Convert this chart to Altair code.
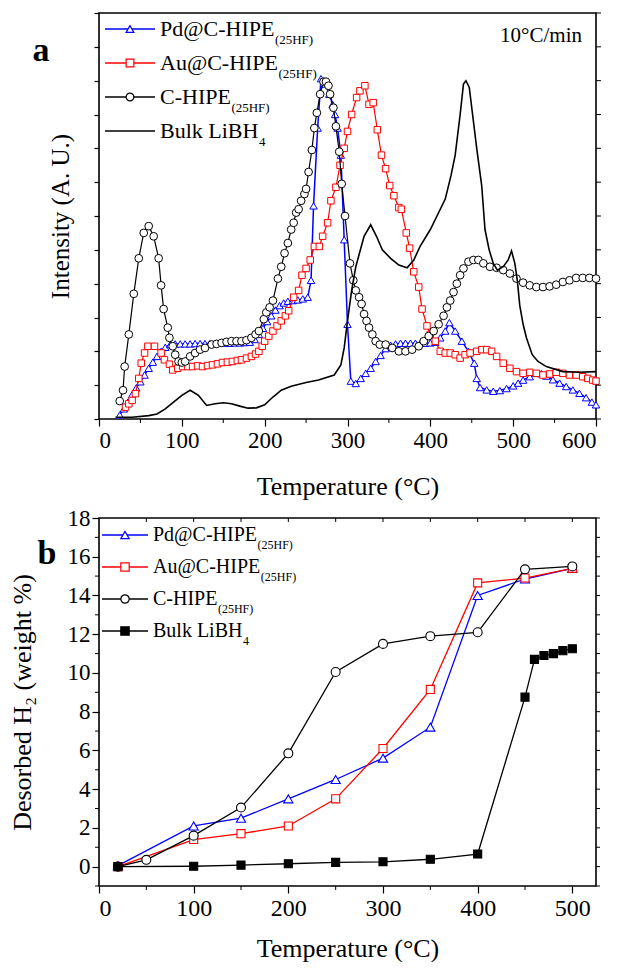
import altair as alt
import pandas as pd

FONT = "Liberation Serif"

# ---------------- Panel a : TPD intensity curves ----------------
pd_T = [25, 30, 35, 40, 45, 50, 55, 60, 65, 70, 75, 80, 86, 92, 98, 104, 110, 116, 122, 128,
        134, 140, 146, 152, 158, 164, 170, 176, 182, 188, 193, 198, 203, 208, 213, 218, 223,
        228, 234, 240, 246, 252, 256, 259, 264, 268, 273, 278, 282, 285, 288, 292, 296, 300,
        304, 310, 316, 322, 328, 334, 340, 346, 352, 358, 364, 370, 376, 382, 388, 394, 400,
        406, 412, 418, 423, 430, 438, 446, 453, 456, 460, 468, 476, 484, 492, 500, 506, 512,
        520, 528, 534, 540, 548, 556, 564, 572, 580, 588, 595, 600]
pd_I = [0.12, 0.3, 0.5, 0.72, 0.92, 1.1, 1.3, 1.5, 1.68, 1.85, 2.0, 2.12, 2.2, 2.22, 2.22,
        2.22, 2.22, 2.23, 2.23, 2.23, 2.23, 2.23, 2.24, 2.24, 2.24, 2.25, 2.25, 2.26, 2.27,
        2.35, 2.5, 2.68, 2.88, 3.05, 3.22, 3.35, 3.43, 3.48, 3.5, 3.52, 3.55, 3.6, 4.1, 6.3,
        8.6, 10.06, 9.9, 9.6, 9.3, 9.0, 8.6, 7.8, 5.3, 2.8, 1.12, 1.05, 1.2, 1.35, 1.5, 1.7,
        1.88, 2.08, 2.18, 2.22, 2.24, 2.24, 2.24, 2.24, 2.24, 2.24, 2.25, 2.27, 2.4, 2.6,
        2.85, 2.6, 2.3, 2.0, 1.65, 1.2, 0.93, 0.86, 0.82, 0.84, 0.9, 0.98, 1.06, 1.15, 1.25,
        1.35, 1.34, 1.27, 1.16, 1.06, 0.96, 0.86, 0.76, 0.63, 0.5, 0.42]

au_T = [32, 36, 40, 44, 48, 51, 55, 59, 67, 75, 79, 85, 89, 95, 101, 107, 113, 119, 125, 131,
        137, 143, 149, 155, 161, 167, 172, 178, 184, 189, 193, 197, 200, 205, 210, 215, 220,
        225, 229, 235, 241, 245, 250, 255, 260, 266, 270, 276, 280, 286, 291, 296, 300, 305,
        311, 315, 321, 326, 331, 336, 341, 346, 351, 356, 362, 365, 371, 375, 380, 386, 390,
        396, 400, 406, 412, 418, 424, 430, 436, 442, 448, 456, 462, 468, 474, 480, 488, 496,
        504, 512, 520, 528, 536, 544, 552, 560, 568, 576, 584, 590, 596, 600]
au_I = [0.35, 0.45, 0.55, 0.75, 1.2, 1.65, 1.95, 2.15, 2.15, 1.95, 1.75, 1.62, 1.45, 1.5, 1.55,
        1.55, 1.55, 1.57, 1.55, 1.58, 1.6, 1.63, 1.67, 1.68, 1.7, 1.73, 1.75, 1.8, 1.85, 1.92,
        2.0, 2.15, 2.3, 2.45, 2.6, 2.75, 2.9, 3.05, 3.2, 3.6, 3.8, 4.25, 4.45, 4.7, 5.1, 5.1,
        5.4, 5.8, 6.45, 6.85, 7.5, 8.0, 8.5, 9.0, 9.5, 9.7, 9.85, 9.3, 9.35, 8.55, 7.8, 7.4,
        6.9, 6.6, 6.25, 6.2, 5.5, 5.05, 4.35, 3.9, 3.25, 2.75, 2.5, 2.3, 2.0, 1.95, 1.95, 1.9,
        1.8, 1.9, 1.95, 2.0, 2.05, 2.05, 2.0, 1.85, 1.65, 1.5, 1.4, 1.35, 1.38, 1.35, 1.3,
        1.33, 1.38, 1.35, 1.3, 1.3, 1.25, 1.2, 1.15, 1.12]

c_T = [25, 29, 31, 36, 42, 48, 54, 60, 66, 72, 75, 78, 83, 85, 89, 92, 96, 100, 104, 110, 116,
       122, 128, 136, 142, 148, 154, 160, 166, 172, 178, 184, 189, 193, 199, 202, 206, 210, 216,
       220, 224, 228, 232, 235, 238, 241, 244, 248, 250, 253, 257, 260, 263, 267, 271, 274, 277,
       279, 283, 286, 290, 293, 297, 303, 307, 310, 314, 317, 320, 323, 326, 330, 334, 339, 346,
       354, 362, 370, 378, 386, 392, 398, 404, 410, 416, 420, 424, 428, 432, 436, 440, 446, 452,
       458, 464, 472, 480, 488, 496, 504, 512, 520, 528, 536, 544, 552, 560, 568, 576, 584, 592,
       600]
c_I = [0.53, 0.85, 1.55, 2.5, 3.7, 4.75, 5.5, 5.7, 5.4, 4.75, 3.95, 3.25, 2.7, 2.4, 2.15, 1.9,
       1.7, 1.67, 1.7, 1.85, 1.95, 2.05, 2.1, 2.2, 2.22, 2.25, 2.28, 2.3, 2.3, 2.3, 2.33, 2.4,
       2.5, 2.6, 2.95, 3.15, 3.3, 3.5, 4.15, 4.5, 4.9, 5.2, 5.6, 5.8, 6.1, 6.2, 6.45, 6.65, 6.8,
       7.3, 7.95, 8.6, 9.05, 9.6, 9.97, 9.97, 9.85, 9.6, 9.2, 8.65, 7.9, 6.95, 6.0, 4.6, 4.1,
       3.8, 3.6, 3.4, 3.1, 2.9, 2.7, 2.5, 2.3, 2.2, 2.2, 2.1, 2.0, 2.0, 2.05, 2.15, 2.3, 2.45,
       2.6, 2.8, 3.05, 3.3, 3.5, 3.75, 4.0, 4.25, 4.45, 4.65, 4.7, 4.7, 4.6, 4.5, 4.47, 4.4,
       4.3, 4.15, 4.03, 3.95, 3.9, 3.9, 3.92, 3.97, 4.05, 4.1, 4.17, 4.17, 4.17, 4.15]

bulk_T = [20, 40, 60, 70, 80, 90, 100, 110, 120, 130, 140, 150, 160, 170, 180, 190, 200, 210,
          220, 232, 250, 265, 284, 292, 296, 300, 305, 310, 320, 328, 335, 342, 352, 362, 372,
          380, 388, 400, 408, 418, 425, 430, 436, 440, 443, 447, 451, 456, 462, 466, 471, 476,
          481, 488, 494, 498, 502, 505, 508, 512, 516, 523, 530, 540, 560, 580, 600]
bulk_I = [0.05, 0.05, 0.1, 0.15, 0.3, 0.5, 0.7, 0.85, 0.7, 0.4, 0.45, 0.48, 0.45, 0.38, 0.32,
          0.33, 0.42, 0.65, 0.85, 0.97, 1.08, 1.15, 1.3, 1.6, 2.1, 2.9, 3.8, 4.5, 5.4, 5.74, 5.4,
          5.0, 4.75, 4.55, 4.47, 4.7, 5.12, 5.6, 6.0, 6.5, 7.2, 7.8, 9.0, 9.9, 10.0, 9.8, 9.0,
          8.0, 6.9, 5.6, 5.0, 4.6, 4.4, 4.5, 4.7, 4.97, 4.6, 4.1, 3.35, 2.8, 2.4, 1.9, 1.7,
          1.55, 1.4, 1.38, 1.4]

# ---------------- Panel b : desorbed H2 ----------------
b_pd_T = [20, 100, 150, 200, 250, 300, 350, 400, 450, 500]
b_pd_V = [0.05, 2.1, 2.5, 3.5, 4.5, 5.6, 7.2, 14.0, 14.85, 15.4]
b_au_T = [20, 100, 150, 200, 250, 300, 350, 400, 450, 500]
b_au_V = [0.0, 1.4, 1.7, 2.1, 3.5, 6.1, 9.15, 14.65, 14.9, 15.4]
b_c_T = [20, 50, 100, 150, 200, 250, 300, 350, 400, 450, 500]
b_c_V = [0.0, 0.35, 1.6, 3.05, 5.85, 10.05, 11.5, 11.9, 12.1, 15.35, 15.5]
b_bulk_T = [20, 100, 150, 200, 250, 300, 350, 400, 450, 460, 470, 480, 490, 500]
b_bulk_V = [0.0, 0.02, 0.08, 0.15, 0.22, 0.25, 0.38, 0.65, 8.75, 10.7, 10.9, 11.0, 11.15, 11.25]

# ---------------- legend / text content ----------------
leg_labels = ["Pd@C-HIPE", "Au@C-HIPE", "C-HIPE", "Bulk LiBH"]
leg_subs = ["(25HF)", "(25HF)", "(25HF)", "4"]
leg_colors = ["#0000ff", "#ff0000", "#000000", "#000000"]
leg_shapes_a = ["triangle-up", "square", "circle", "none"]
leg_fills_a = ["white", "white", "white", "white"]
leg_shapes_b = ["triangle-up", "square", "circle", "square"]
leg_fills_b = ["white", "white", "white", "black"]

# Times/Liberation Serif advance widths (per 1000 em) for measuring label text
TIMES_W = {'P': 556, 'd': 500, '@': 921, 'C': 667, '-': 333, 'H': 722, 'I': 333, 'E': 611,
           'A': 722, 'u': 500, 'B': 667, 'l': 278, 'k': 500, ' ': 250, 'L': 611, 'i': 278}


def text_width(s, fs):
    return sum(TIMES_W.get(ch, 500) for ch in s) / 1000.0 * fs


WA, HA = 497, 406
WB, HB = 497, 368


def legend_layers(shapes, fills, row0, drow, xl0, xl1, xm, xt, fs, fs_sub, base_off, sub_off,
                  msize):
    rows = []
    for i, lab in enumerate(leg_labels):
        cy = row0 + i * drow
        rows.append({
            "label": lab, "sub": leg_subs[i], "col": leg_colors[i], "shape": shapes[i],
            "fill": fills[i], "lx1": xl0, "lx2": xl1, "lxm": xm, "ly": cy,
            "lxt": xt, "lyt": cy + base_off,
            "lxs": xt + text_width(lab, fs) + 0.5, "lys": cy + sub_off,
        })
    df = pd.DataFrame(rows)
    base = alt.Chart(df)
    rule = base.mark_rule(strokeWidth=1.5).encode(
        x=alt.X("lx1:Q", scale=None, axis=None), x2="lx2:Q",
        y=alt.Y("ly:Q", scale=None, axis=None),
        color=alt.Color("col:N", scale=None))
    pts = base.transform_filter("datum.shape != 'none'").mark_point(
        filled=True, size=msize, strokeWidth=1.2, opacity=1).encode(
        x=alt.X("lxm:Q", scale=None, axis=None),
        y=alt.Y("ly:Q", scale=None, axis=None),
        shape=alt.Shape("shape:N", scale=None),
        fill=alt.Fill("fill:N", scale=None),
        stroke=alt.Stroke("col:N", scale=None))
    txt = base.mark_text(align="left", baseline="alphabetic", font=FONT, fontSize=fs,
                         color="black").encode(
        x=alt.X("lxt:Q", scale=None, axis=None),
        y=alt.Y("lyt:Q", scale=None, axis=None),
        text="label:N")
    sub = base.mark_text(align="left", baseline="alphabetic", font=FONT, fontSize=fs_sub,
                         color="black").encode(
        x=alt.X("lxs:Q", scale=None, axis=None),
        y=alt.Y("lys:Q", scale=None, axis=None),
        text="sub:N")
    return [rule, pts, txt, sub]


# ---------------- Panel a ----------------
xa = alt.X("T:Q", scale=alt.Scale(domain=[0, 600], nice=False, zero=False),
           axis=alt.Axis(values=[0, 100, 200, 300, 400, 500, 600], title="Temperature (°C)",
                         tickSize=7, labelFontSize=23, labelPadding=3, titleFontSize=26,
                         titleY=67, titleBaseline="middle"))
ya = alt.Y("V:Q", scale=alt.Scale(domain=[0, 12], nice=False, zero=False),
           axis=alt.Axis(values=list(range(0, 13)), labels=False, tickSize=5,
                         title="Intensity (A. U.)", titleFontSize=25, titleX=-39,
                         titleY=HA / 2, titleBaseline="middle", titleAngle=270))


def series_a(T, V, color, shape, size, line_w):
    df = pd.DataFrame({"T": T, "V": V})
    base = alt.Chart(df).encode(x=xa, y=ya)
    line = base.mark_line(color=color, strokeWidth=line_w)
    pts = base.mark_point(shape=shape, size=size, fill="white", fillOpacity=1, filled=True,
                          stroke=color, strokeWidth=1.0, opacity=1)
    return [line, pts]


layers_a = []
layers_a += series_a(pd_T, pd_I, "#0000ff", "triangle-up", 55, 1.5)
layers_a += series_a(au_T, au_I, "#ff0000", "square", 42, 1.2)
layers_a += series_a(c_T, c_I, "#000000", "circle", 60, 1.2)
layers_a.append(alt.Chart(pd.DataFrame({"T": bulk_T, "V": bulk_I})).mark_line(
    color="black", strokeWidth=1.6).encode(x=xa, y=ya))

# minor / mirror ticks for panel a
layers_a.append(alt.Chart(pd.DataFrame({"T": [50, 150, 250, 350, 450, 550]})).mark_rule(
    color="black", strokeWidth=1).encode(x=xa, y=alt.value(HA), y2=alt.value(HA + 4)))
layers_a.append(alt.Chart(pd.DataFrame({"V": list(range(0, 13))})).mark_rule(
    color="black", strokeWidth=1).encode(y=ya, x=alt.value(WA), x2=alt.value(WA + 5)))

layers_a += legend_layers(leg_shapes_a, leg_fills_a, 16, 34, 6, 56, 31, 61, 22, 13, 7, 15, 60)

layers_a.append(alt.Chart(pd.DataFrame({"t": ["10°C/min"]})).mark_text(
    align="right", baseline="alphabetic", font=FONT, fontSize=21, color="black").encode(
    x=alt.value(WA - 14), y=alt.value(29), text="t:N"))
layers_a.append(alt.Chart(pd.DataFrame({"t": ["a"]})).mark_text(
    align="center", baseline="middle", font=FONT, fontSize=34, fontWeight="bold",
    color="black").encode(x=alt.value(-58), y=alt.value(38), text="t:N"))

panel_a = alt.layer(*layers_a).properties(width=WA, height=HA)

# ---------------- Panel b ----------------
xb = alt.X("T:Q", scale=alt.Scale(domain=[0, 525], nice=False, zero=False),
           axis=alt.Axis(values=[0, 100, 200, 300, 400, 500], title="Temperature (°C)",
                         tickSize=7, labelFontSize=24, labelPadding=3, titleFontSize=26,
                         titleY=62, titleBaseline="middle"))
yb = alt.Y("V:Q", scale=alt.Scale(domain=[-1, 18], nice=False, zero=False),
           axis=alt.Axis(values=list(range(0, 19, 2)), tickSize=7, labelFontSize=23,
                         labelPadding=2, title="Desorbed H₂ (weight %)", titleFontSize=26,
                         titleX=-77, titleY=HB / 2, titleBaseline="middle", titleAngle=270))


def series_b(T, V, color, shape, size, fill):
    df = pd.DataFrame({"T": T, "V": V})
    base = alt.Chart(df).encode(x=xb, y=yb)
    line = base.mark_line(color=color, strokeWidth=1.3)
    pts = base.mark_point(shape=shape, size=size, fill=fill, fillOpacity=1, filled=True,
                          stroke=color, strokeWidth=1.1, opacity=1)
    return [line, pts]


layers_b = []
layers_b += series_b(b_pd_T, b_pd_V, "#0000ff", "triangle-up", 85, "white")
layers_b += series_b(b_au_T, b_au_V, "#ff0000", "square", 65, "white")
layers_b += series_b(b_c_T, b_c_V, "#000000", "circle", 80, "white")
layers_b += series_b(b_bulk_T, b_bulk_V, "#000000", "square", 65, "black")

layers_b.append(alt.Chart(pd.DataFrame({"T": [50, 150, 250, 350, 450]})).mark_rule(
    color="black", strokeWidth=1).encode(x=xb, y=alt.value(HB), y2=alt.value(HB + 4)))
layers_b.append(alt.Chart(pd.DataFrame({"T": [50, 100, 150, 200, 250, 300, 350, 400, 450, 500]})).mark_rule(
    color="black", strokeWidth=1).encode(x=xb, y=alt.value(0), y2=alt.value(4)))
layers_b.append(alt.Chart(pd.DataFrame({"V": list(range(-1, 19, 2))})).mark_rule(
    color="black", strokeWidth=1).encode(y=yb, x=alt.value(-4), x2=alt.value(0)))
layers_b.append(alt.Chart(pd.DataFrame({"V": list(range(-1, 19))})).mark_rule(
    color="black", strokeWidth=1).encode(y=yb, x=alt.value(WB), x2=alt.value(WB + 4)))

layers_b += legend_layers(leg_shapes_b, leg_fills_b, 17, 32, 3, 49, 26, 54, 20, 12, 6, 14, 70)

layers_b.append(alt.Chart(pd.DataFrame({"t": ["b"]})).mark_text(
    align="center", baseline="middle", font=FONT, fontSize=34, fontWeight="bold",
    color="black").encode(x=alt.value(-52), y=alt.value(36), text="t:N"))

panel_b = alt.layer(*layers_b).properties(width=WB, height=HB)

chart = alt.vconcat(panel_a, panel_b, spacing=99, bounds="flush").properties(
    padding={"left": 0, "top": 3, "right": 13, "bottom": 0},
    background="white",
).configure_view(stroke="black", strokeWidth=1.6).configure_axis(
    labelFont=FONT, titleFont=FONT, labelColor="black", titleColor="black",
    tickColor="black", tickWidth=1.2, domain=False, grid=False, titleFontWeight="normal",
)

chart.save("out.html", embed_options={"renderer": "svg", "actions": False})
